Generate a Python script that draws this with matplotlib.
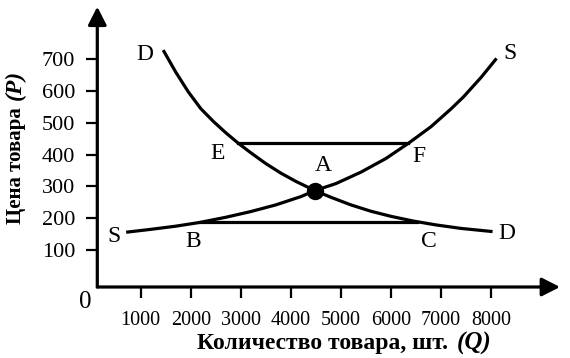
import matplotlib
matplotlib.use("Agg")
import matplotlib.pyplot as plt

plt.rcParams['font.family'] = ['Liberation Serif', 'DejaVu Serif']

# Data
x_ticks = [1000, 2000, 3000, 4000, 5000, 6000, 7000, 8000]
y_ticks = [100, 200, 300, 400, 500, 600, 700]

demand_q = [1450, 1700, 1950, 2200, 2450, 2700, 2950, 3200, 3500, 3800, 4100,
            4480, 4800, 5200, 5600, 6000, 6450, 6900, 7400, 8030]
demand_p = [729, 660, 598, 545, 505, 469, 436, 406, 372, 342, 316,
            287, 266, 242, 222, 206, 191, 179, 168, 158]

supply_q = [710, 1200, 1700, 2190, 2700, 3200, 3700, 4200, 4480, 4900, 5400,
            5900, 6350, 6800, 7200, 7450, 7800, 8110]
supply_p = [156, 165, 175, 187, 203, 221, 242, 268, 287, 309, 345,
            388, 436, 488, 544, 582, 643, 703]

eq_q, eq_p = 4480, 287
ef_q = [2950, 6350]
ef_p = 436
bc_q = [2190, 6530]
bc_p = 187

point_labels = [
    ("D", 1090, 714), ("S", 8370, 717), ("E", 2530, 404), ("F", 6560, 394),
    ("A", 4640, 367), ("S", 470, 144), ("B", 2040, 128), ("C", 6750, 126),
    ("D", 8320, 152),
]

W, H = 570, 358
fig = plt.figure(figsize=(W / 100, H / 100), dpi=100)
ax_left, ax_right = 97.3, 560
ax_top, ax_bottom = 6.7, 287
ax = fig.add_axes([ax_left / W, 1 - ax_bottom / H, (ax_right - ax_left) / W,
                   (ax_bottom - ax_top) / H])
ax.set_xlim(133, 9378)
ax.set_ylim(-16.4, 865.7)
for s in ax.spines.values():
    s.set_visible(False)

lw = 2.3
ax.plot(demand_q, demand_p, color='black', lw=lw, solid_capstyle='butt',
        solid_joinstyle='round')
ax.plot(supply_q, supply_p, color='black', lw=lw, solid_capstyle='butt',
        solid_joinstyle='round')
ax.plot(ef_q, [ef_p, ef_p], color='black', lw=lw)
ax.plot(bc_q, [bc_p, bc_p], color='black', lw=lw)
ax.plot([eq_q], [eq_p], 'o', color='black', markersize=11.5)

for txt, x, y in point_labels:
    ax.text(x, y, txt, fontsize=17, ha='center', va='center')

# axes arrows
arrow = dict(arrowstyle='-|>,head_length=0.55,head_width=0.28', lw=2.3,
             color='black', mutation_scale=20, shrinkA=0, shrinkB=0)
ax.annotate('', xy=(1, 0), xytext=(0, 0), xycoords='axes fraction',
            textcoords='axes fraction', arrowprops=arrow)
ax.annotate('', xy=(0, 1), xytext=(0, 0), xycoords='axes fraction',
            textcoords='axes fraction', arrowprops=arrow)

ax.set_xticks(x_ticks)
ax.set_xticklabels([str(v) for v in x_ticks])
ax.set_yticks(y_ticks)
ax.set_yticklabels([str(v) for v in y_ticks])
ax.tick_params(axis='x', direction='out', length=8, width=1.6, labelsize=14.5, pad=9)
ax.tick_params(axis='y', direction='out', length=8, width=1.6, labelsize=16, pad=8)

fig.text(85 / W, 1 - 302 / H, "0", fontsize=18, ha='center', va='center')

fig.text(197 / W, 1 - 344 / H, "Количество товара, шт.", fontsize=17,
         fontweight='bold', ha='left', va='center')
fig.text(492 / W, 1 - 343 / H, "(Q)", fontsize=18, fontweight='bold',
         fontstyle='italic', ha='right', va='center')

fig.text(16 / W, 1 - 224 / H, "Цена товара", fontsize=15, fontweight='bold',
         rotation=90, ha='center', va='bottom')
fig.text(15 / W, 1 - 100 / H, "(P)", fontsize=17, fontweight='bold',
         fontstyle='italic', rotation=90, ha='center', va='bottom')

fig.savefig("out.png", dpi=100)
